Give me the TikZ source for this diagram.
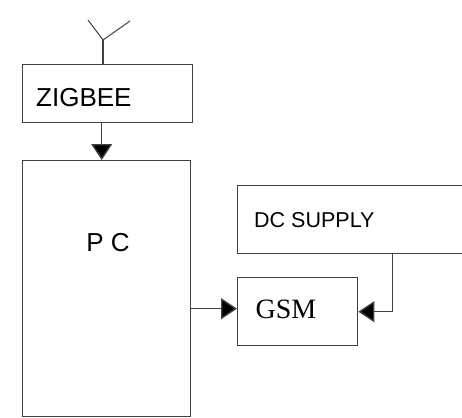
\documentclass[tikz,border=0pt]{standalone}
\usepackage{fontspec}
\setmainfont{Liberation Sans}
\newfontfamily\gsmfont{Liberation Serif}
\usetikzlibrary{positioning,arrows.meta}

\begin{document}
\begin{tikzpicture}[x=1pt,y=-1pt]
\tikzstyle{block}=[rectangle, draw=black!75, line width=1.4pt, inner sep=0pt, anchor=north west]
\tikzstyle{connect}=[-{Triangle[length=16pt,width=21pt,fill=black]}, line width=1.4pt, draw=black!75]
\tikzstyle{wire}=[line width=1.4pt, draw=black!75]
\tikzstyle{lbl}=[inner sep=0pt]
\useasboundingbox (0,0) rectangle (462,417);
\clip (0,0) rectangle (462,417);
  % blocks
  \node[block, minimum width=170pt, minimum height=58pt] (zigbee) at (22,64) {};
  \node[block, minimum width=168pt, minimum height=256pt] (pc) at (22,160) {};
  \node[block, minimum width=240pt, minimum height=68pt] (dc) at (237,185) {};
  \node[block, minimum width=120pt, minimum height=68pt] (gsm) at (237,277) {};
  % texts
  \node[lbl, anchor=west, font=\fontsize{26}{28}\selectfont] (zigtext) at (36,98) {ZIGBEE};
  \node[lbl, font=\fontsize{26}{28}\selectfont] (pctext) at (108,243) {P C};
  \node[lbl, anchor=west, font=\fontsize{21.5}{24}\selectfont, right=17pt of dc.west] (dctext) {DC SUPPLY};
  \node[lbl, font=\gsmfont\fontsize{28}{30}\selectfont] (gsmtext) at (286,309) {GSM};
  % antenna
  \coordinate (ant) at (103,40);
  \coordinate (antl) at (88,20);
  \coordinate (antr) at (130,21);
  \draw[wire] (zigbee.north -| ant) -- (ant);
  \draw[wire, line width=1pt] (antl) -- (ant) -- (antr);
  % links
  \draw[connect] ([xshift=-6pt]zigbee.south) -- ([xshift=-6pt]zigbee.south |- pc.north);
  \draw[connect] ([yshift=3pt]gsm.west -| pc.east) -- ([yshift=3pt]gsm.west);
  \draw[connect] ([xshift=35pt]dc.south) |- (gsm.east);
\end{tikzpicture}
\end{document}
